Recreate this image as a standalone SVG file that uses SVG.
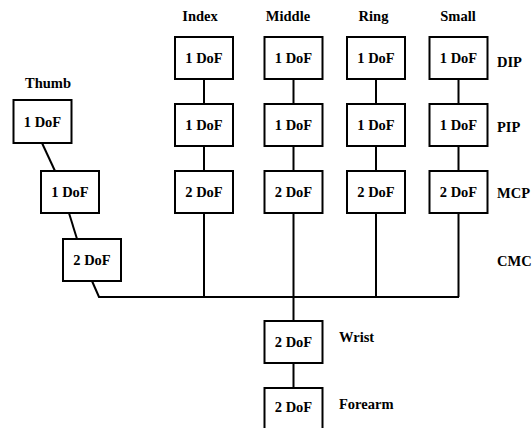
<svg xmlns="http://www.w3.org/2000/svg" width="532" height="428" viewBox="0 0 532 428">
<style>
.box{fill:#fff;stroke:#000;stroke-width:2}
.ln{fill:none;stroke:#000;stroke-width:2}
text{font-family:"Liberation Serif","Times New Roman",serif;font-weight:bold;font-size:14.5px;fill:#000}
.c{text-anchor:middle}
</style>
<rect width="532" height="428" fill="#fff"/>
<g id="connectors">
<path class="ln" d="M42,143 L55,171"/>
<path class="ln" d="M69,213 L77,239"/>
<path class="ln" d="M92,281 L99,297 L459,297"/>
<path class="ln" d="M204,79 V104 M204,146 V171 M204,213 V297"/>
<path class="ln" d="M293.5,79 V104 M293.5,146 V171 M293.5,213 V321 M293.5,363 V388"/>
<path class="ln" d="M376,79 V104 M376,146 V171 M376,213 V297"/>
<path class="ln" d="M458.5,79 V104 M458.5,146 V171 M458.5,213 V297"/>
</g>
<g id="labels">
<text class="c" x="200" y="21">Index</text>
<text class="c" x="288" y="21">Middle</text>
<text class="c" x="373.5" y="21">Ring</text>
<text class="c" x="458" y="21">Small</text>
<text class="c" x="48" y="88">Thumb</text>
<text x="497" y="67">DIP</text>
<text x="497" y="132">PIP</text>
<text x="497" y="198">MCP</text>
<text x="497" y="266">CMC</text>
<text x="339" y="342">Wrist</text>
<text x="339" y="409">Forearm</text>
</g>
<g id="thumb-1"><rect class="box" x="13.5" y="100" width="58" height="43"/><text class="c" x="42.5" y="127">1 DoF</text></g>
<g id="thumb-2"><rect class="box" x="41" y="171" width="58" height="42"/><text class="c" x="70" y="197">1 DoF</text></g>
<g id="thumb-3"><rect class="box" x="63" y="239" width="58" height="42"/><text class="c" x="92" y="265">2 DoF</text></g>
<g id="index-dip"><rect class="box" x="175" y="37" width="58" height="42"/><text class="c" x="204" y="63">1 DoF</text></g>
<g id="index-pip"><rect class="box" x="175" y="104" width="58" height="42"/><text class="c" x="204" y="130">1 DoF</text></g>
<g id="index-mcp"><rect class="box" x="175" y="171" width="58" height="42"/><text class="c" x="204" y="197">2 DoF</text></g>
<g id="middle-dip"><rect class="box" x="264.5" y="37" width="58" height="42"/><text class="c" x="293.5" y="63">1 DoF</text></g>
<g id="middle-pip"><rect class="box" x="264.5" y="104" width="58" height="42"/><text class="c" x="293.5" y="130">1 DoF</text></g>
<g id="middle-mcp"><rect class="box" x="264.5" y="171" width="58" height="42"/><text class="c" x="293.5" y="197">2 DoF</text></g>
<g id="ring-dip"><rect class="box" x="347" y="37" width="58" height="42"/><text class="c" x="376" y="63">1 DoF</text></g>
<g id="ring-pip"><rect class="box" x="347" y="104" width="58" height="42"/><text class="c" x="376" y="130">1 DoF</text></g>
<g id="ring-mcp"><rect class="box" x="347" y="171" width="58" height="42"/><text class="c" x="376" y="197">2 DoF</text></g>
<g id="small-dip"><rect class="box" x="429.5" y="37" width="58" height="42"/><text class="c" x="458.5" y="63">1 DoF</text></g>
<g id="small-pip"><rect class="box" x="429.5" y="104" width="58" height="42"/><text class="c" x="458.5" y="130">1 DoF</text></g>
<g id="small-mcp"><rect class="box" x="429.5" y="171" width="58" height="42"/><text class="c" x="458.5" y="197">2 DoF</text></g>
<g id="wrist"><rect class="box" x="264.5" y="321" width="58" height="42"/><text class="c" x="293.5" y="347">2 DoF</text></g>
<g id="forearm"><rect class="box" x="264.5" y="388" width="58" height="44"/><text class="c" x="293.5" y="412">2 DoF</text></g>
</svg>
